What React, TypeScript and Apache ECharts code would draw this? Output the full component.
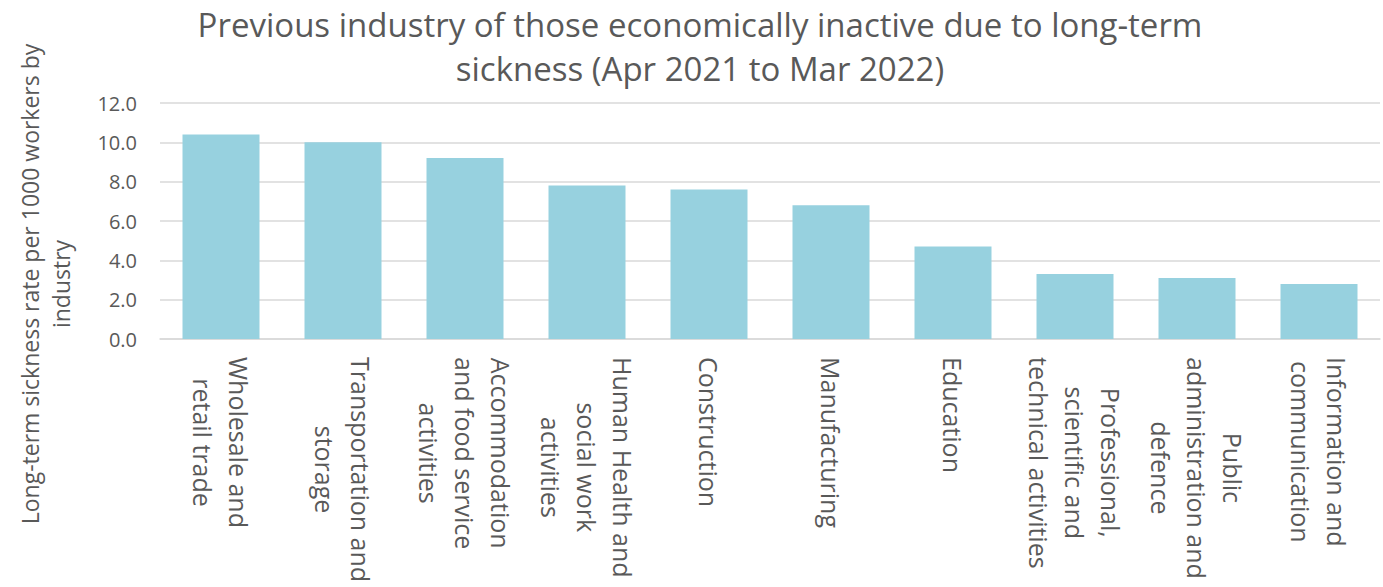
import React, { useEffect, useRef } from "react";
import * as echarts from "echarts";

const TITLE = "Previous industry of those economically inactive due to long-term\nsickness (Apr 2021 to Mar 2022)";
const Y_NAME = "Long-term sickness rate per 1000 workers by\nindustry";

const categories = [
  "Wholesale and\nretail trade",
  "Transportation and\nstorage",
  "Accommodation\nand food service\nactivities",
  "Human Health and\nsocial work\nactivities",
  "Construction",
  "Manufacturing",
  "Education",
  "Professional,\nscientific and\ntechnical activities",
  "Public\nadministration and\ndefence",
  "Information and\ncommunication",
];

const values = [10.4, 10.0, 9.2, 7.8, 7.6, 6.8, 4.7, 3.3, 3.1, 2.8];

const yMin = 0;
const yMax = 12;
const yStep = 2;

const TEXT = "#595959";
const GRID = "#D9D9D9";
const BAR = "#97D1DF";
const FONT = "'Open Sans', 'Noto Sans', sans-serif";

export default function App() {
  const ref = useRef<HTMLDivElement>(null);

  useEffect(() => {
    document.body.style.margin = "0";
    if (!ref.current) return;
    const chart = echarts.init(ref.current, undefined, { renderer: "svg" });
    chart.setOption({
      animation: false,
      backgroundColor: "#ffffff",
      textStyle: { fontFamily: FONT },
      title: {
        text: TITLE,
        left: 695,
        top: -3,
        textAlign: "center",
        textStyle: {
          fontFamily: FONT,
          fontSize: 33,
          fontWeight: "normal",
          color: TEXT,
          lineHeight: 44,
        },
      },
      graphic: [
        {
          type: "text",
          x: 45,
          y: 284,
          rotation: Math.PI / 2,
          style: {
            text: Y_NAME,
            fontFamily: FONT,
            fontSize: 23,
            lineHeight: 31,
            fill: TEXT,
            align: "center",
            verticalAlign: "middle",
          },
        },
      ],
      grid: { left: 160, right: 3, top: 103, bottom: 248, containLabel: false },
      xAxis: {
        type: "category",
        data: categories,
        axisLine: { show: true, lineStyle: { color: GRID, width: 1.5 } },
        axisTick: { show: false },
        axisLabel: {
          interval: 0,
          rotate: -90,
          margin: 18,
          formatter: (v: string) =>
            v
              .split("\n")
              .map((l) => `{c|${l}}`)
              .join("\n"),
          rich: {
            c: {
              align: "center",
              fontFamily: FONT,
              fontSize: 25,
              lineHeight: 36,
              color: TEXT,
            },
          },
        },
      },
      yAxis: {
        type: "value",
        min: yMin,
        max: yMax,
        interval: yStep,
        axisLine: { show: false },
        axisTick: { show: false },
        splitLine: { lineStyle: { color: GRID, width: 1.5 } },
        axisLabel: {
          margin: 23,
          fontFamily: FONT,
          fontSize: 20,
          color: TEXT,
          formatter: (v: number) => v.toFixed(1),
        },
      },
      series: [
        {
          type: "bar",
          data: values,
          barWidth: 77,
          itemStyle: { color: BAR },
        },
      ],
    });
    return () => chart.dispose();
  }, []);

  return <div ref={ref} style={{ width: 1383, height: 587 }} />;
}
